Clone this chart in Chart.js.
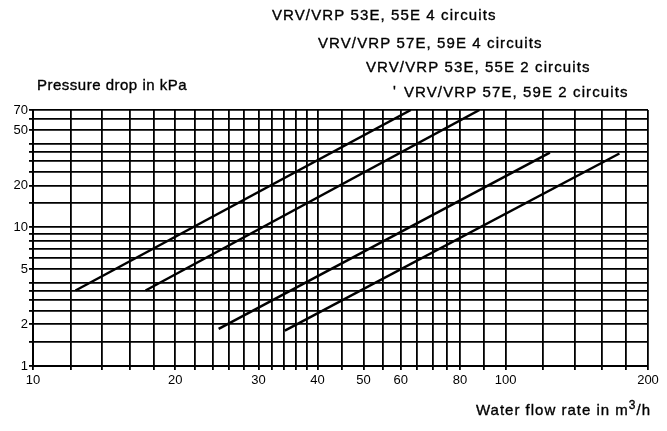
<!DOCTYPE html>
<html>
<head>
<meta charset="utf-8">
<script src="https://cdn.jsdelivr.net/npm/chart.js@4/dist/chart.umd.min.js"></script>
<style>
  html, body { margin: 0; padding: 0; background: #fff; }
  #wrap { width: 667px; height: 431px; }
</style>
</head>
<body>
<div id="wrap"><canvas id="chart" width="667" height="431"></canvas></div>
<script>
// series names, in the order of the labels at the top
const seriesNames = [
    'VRV/VRP 53E, 55E 4 circuits',
    'VRV/VRP 57E, 59E 4 circuits',
    'VRV/VRP 53E, 55E 2 circuits',
    'VRV/VRP 57E, 59E 2 circuits'
];

// flow (m3/h) and pressure drop (kPa) at the two ends of each line
const flow53E4 = [12.3, 63];
const drop53E4 = [3.5, 70];
const flow57E4 = [17.3, 88];
const drop57E4 = [3.5, 70];
const flow53E2 = [24.7, 124];
const drop53E2 = [1.85, 34.5];
const flow57E2 = [34.1, 174];
const drop57E2 = [1.8, 34];

// grid values and the ones that carry a label
const xGrid = [10, 12, 14, 16, 18, 20, 22, 24, 26, 28, 30, 32, 34, 36, 38, 40,
    45, 50, 55, 60, 65, 70, 75, 80, 90, 100, 120, 140, 160, 180, 200];
const xLabels = [10, 20, 30, 40, 50, 60, 80, 100, 200];
const yGrid = [1, 1.5, 2, 2.5, 3, 3.5, 4, 5, 6, 7, 8, 9, 10, 15, 20, 25, 30, 35, 40, 50, 60, 70];
const yLabels = [1, 2, 5, 10, 20, 50, 70];

const FONT = '"Liberation Sans", Arial, sans-serif';

function points(xs, ys) {
    return xs.map((x, i) => ({ x: x, y: ys[i] }));
}

function lineSet(name, xs, ys) {
    return {
        label: name,
        data: points(xs, ys),
        borderColor: '#000',
        borderWidth: 2.5,
        pointRadius: 0,
        fill: false,
        tension: 0
    };
}

// text with a thin outline so it reads as dark as the scan
function inkText(ctx, text, x, y) {
    ctx.fillText(text, x, y);
    ctx.strokeText(text, x, y);
}

// captions drawn around the plot
const captions = {
    id: 'captions',
    afterDraw(chart) {
        const ctx = chart.ctx;
        ctx.save();
        ctx.fillStyle = '#000';
        ctx.strokeStyle = '#000';
        ctx.lineWidth = 0.35;
        ctx.textBaseline = 'alphabetic';
        ctx.textAlign = 'left';

        ctx.font = '15px ' + FONT;
        ctx.letterSpacing = '1.1px';
        inkText(ctx, seriesNames[0], 272, 20);
        inkText(ctx, seriesNames[1], 318, 48);
        inkText(ctx, seriesNames[2], 366, 72);
        inkText(ctx, '\'', 393, 96);
        inkText(ctx, seriesNames[3], 404, 97);

        ctx.letterSpacing = '0.5px';
        inkText(ctx, 'Pressure drop in kPa', 37, 90);

        ctx.letterSpacing = '1px';
        let x = 476;
        const base = 415;
        const part1 = 'Water flow rate in m';
        inkText(ctx, part1, x, base);
        x += ctx.measureText(part1).width;
        ctx.font = '12px ' + FONT;
        inkText(ctx, '3', x, base - 6);
        x += ctx.measureText('3').width;
        ctx.font = '15px ' + FONT;
        inkText(ctx, '/h', x, base);
        ctx.restore();
    }
};

const ctx = document.getElementById('chart').getContext('2d');
new Chart(ctx, {
    type: 'line',
    data: {
        datasets: [
            lineSet(seriesNames[0], flow53E4, drop53E4),
            lineSet(seriesNames[1], flow57E4, drop57E4),
            lineSet(seriesNames[2], flow53E2, drop53E2),
            lineSet(seriesNames[3], flow57E2, drop57E2)
        ]
    },
    options: {
        responsive: false,
        animation: false,
        layout: {
            padding: { top: 110, right: 19, left: 0, bottom: 0 }
        },
        plugins: {
            legend: { display: false },
            tooltip: { enabled: false }
        },
        scales: {
            x: {
                type: 'logarithmic',
                position: 'bottom',
                min: 10,
                max: 200,
                afterBuildTicks: scale => {
                    scale.ticks = xGrid.map(v => ({ value: v }));
                },
                afterFit: scale => {
                    scale.height = 65;
                },
                ticks: {
                    autoSkip: false,
                    maxRotation: 0,
                    padding: 3,
                    color: '#000',
                    font: { family: FONT, size: 13 },
                    callback: value => xLabels.includes(value) ? String(value) : ''
                },
                grid: {
                    color: '#000',
                    lineWidth: 1.8,
                    tickLength: 4
                },
                border: { color: '#000', width: 2 }
            },
            y: {
                type: 'logarithmic',
                min: 1,
                max: 70,
                afterBuildTicks: scale => {
                    scale.ticks = yGrid.map(v => ({ value: v }));
                },
                afterFit: scale => {
                    scale.width = 33;
                },
                ticks: {
                    autoSkip: false,
                    padding: 1,
                    color: '#000',
                    font: { family: FONT, size: 13 },
                    callback: value => yLabels.includes(value) ? String(value) : ''
                },
                grid: {
                    color: '#000',
                    lineWidth: 1.8,
                    tickLength: 4
                },
                border: { color: '#000', width: 2 }
            }
        }
    },
    plugins: [captions]
});
</script>
</body>
</html>
